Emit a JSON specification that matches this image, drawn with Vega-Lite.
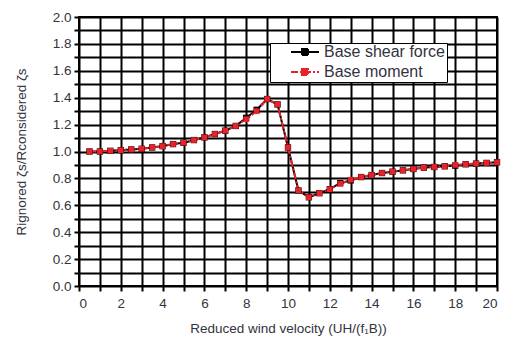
{
  "$schema": "https://vega.github.io/schema/vega-lite/v6.json",
  "width": 418,
  "height": 269,
  "autosize": {"type": "none"},
  "padding": {"left": 79, "top": 17, "right": 10, "bottom": 57},
  "background": "white",
  "config": {
    "font": "Liberation Sans",
    "view": {"stroke": "black", "strokeWidth": 2},
    "axis": {
      "grid": true, "gridColor": "black", "gridOpacity": 1, "gridWidth": 2,
      "domain": false, "tickColor": "black", "tickWidth": 2, "tickSize": 5,
      "labelFont": "Liberation Sans", "labelFontSize": 13.5, "labelColor": "#333340",
      "titleFont": "Liberation Sans", "titleFontSize": 13.5, "titleFontWeight": "normal", "titleColor": "#333340"
    }
  },
  "data": {"values": [
    {"x": 0.5, "s": "Base shear force", "v": 1.00},
    {"x": 1.0, "s": "Base shear force", "v": 1.00},
    {"x": 1.5, "s": "Base shear force", "v": 1.005},
    {"x": 2.0, "s": "Base shear force", "v": 1.01},
    {"x": 2.5, "s": "Base shear force", "v": 1.015},
    {"x": 3.0, "s": "Base shear force", "v": 1.02},
    {"x": 3.5, "s": "Base shear force", "v": 1.03},
    {"x": 4.0, "s": "Base shear force", "v": 1.04},
    {"x": 4.5, "s": "Base shear force", "v": 1.055},
    {"x": 5.0, "s": "Base shear force", "v": 1.065},
    {"x": 5.5, "s": "Base shear force", "v": 1.085},
    {"x": 6.0, "s": "Base shear force", "v": 1.105},
    {"x": 6.5, "s": "Base shear force", "v": 1.13},
    {"x": 7.0, "s": "Base shear force", "v": 1.155},
    {"x": 7.5, "s": "Base shear force", "v": 1.19},
    {"x": 8.0, "s": "Base shear force", "v": 1.25},
    {"x": 8.5, "s": "Base shear force", "v": 1.31},
    {"x": 9.0, "s": "Base shear force", "v": 1.39},
    {"x": 9.5, "s": "Base shear force", "v": 1.35},
    {"x": 10.0, "s": "Base shear force", "v": 1.03},
    {"x": 10.5, "s": "Base shear force", "v": 0.71},
    {"x": 11.0, "s": "Base shear force", "v": 0.66},
    {"x": 11.5, "s": "Base shear force", "v": 0.69},
    {"x": 12.0, "s": "Base shear force", "v": 0.72},
    {"x": 12.5, "s": "Base shear force", "v": 0.765},
    {"x": 13.0, "s": "Base shear force", "v": 0.785},
    {"x": 13.5, "s": "Base shear force", "v": 0.81},
    {"x": 14.0, "s": "Base shear force", "v": 0.825},
    {"x": 14.5, "s": "Base shear force", "v": 0.84},
    {"x": 15.0, "s": "Base shear force", "v": 0.85},
    {"x": 15.5, "s": "Base shear force", "v": 0.86},
    {"x": 16.0, "s": "Base shear force", "v": 0.87},
    {"x": 16.5, "s": "Base shear force", "v": 0.88},
    {"x": 17.0, "s": "Base shear force", "v": 0.885},
    {"x": 17.5, "s": "Base shear force", "v": 0.89},
    {"x": 18.0, "s": "Base shear force", "v": 0.895},
    {"x": 18.5, "s": "Base shear force", "v": 0.905},
    {"x": 19.0, "s": "Base shear force", "v": 0.91},
    {"x": 19.5, "s": "Base shear force", "v": 0.915},
    {"x": 20.0, "s": "Base shear force", "v": 0.92},
    {"x": 0.5, "s": "Base moment", "v": 1.00},
    {"x": 1.0, "s": "Base moment", "v": 1.00},
    {"x": 1.5, "s": "Base moment", "v": 1.005},
    {"x": 2.0, "s": "Base moment", "v": 1.01},
    {"x": 2.5, "s": "Base moment", "v": 1.015},
    {"x": 3.0, "s": "Base moment", "v": 1.02},
    {"x": 3.5, "s": "Base moment", "v": 1.03},
    {"x": 4.0, "s": "Base moment", "v": 1.04},
    {"x": 4.5, "s": "Base moment", "v": 1.055},
    {"x": 5.0, "s": "Base moment", "v": 1.065},
    {"x": 5.5, "s": "Base moment", "v": 1.085},
    {"x": 6.0, "s": "Base moment", "v": 1.105},
    {"x": 6.5, "s": "Base moment", "v": 1.13},
    {"x": 7.0, "s": "Base moment", "v": 1.155},
    {"x": 7.5, "s": "Base moment", "v": 1.19},
    {"x": 8.0, "s": "Base moment", "v": 1.24},
    {"x": 8.5, "s": "Base moment", "v": 1.30},
    {"x": 9.0, "s": "Base moment", "v": 1.39},
    {"x": 9.5, "s": "Base moment", "v": 1.35},
    {"x": 10.0, "s": "Base moment", "v": 1.03},
    {"x": 10.5, "s": "Base moment", "v": 0.71},
    {"x": 11.0, "s": "Base moment", "v": 0.66},
    {"x": 11.5, "s": "Base moment", "v": 0.69},
    {"x": 12.0, "s": "Base moment", "v": 0.72},
    {"x": 12.5, "s": "Base moment", "v": 0.76},
    {"x": 13.0, "s": "Base moment", "v": 0.79},
    {"x": 13.5, "s": "Base moment", "v": 0.81},
    {"x": 14.0, "s": "Base moment", "v": 0.825},
    {"x": 14.5, "s": "Base moment", "v": 0.84},
    {"x": 15.0, "s": "Base moment", "v": 0.85},
    {"x": 15.5, "s": "Base moment", "v": 0.86},
    {"x": 16.0, "s": "Base moment", "v": 0.87},
    {"x": 16.5, "s": "Base moment", "v": 0.88},
    {"x": 17.0, "s": "Base moment", "v": 0.885},
    {"x": 17.5, "s": "Base moment", "v": 0.89},
    {"x": 18.0, "s": "Base moment", "v": 0.90},
    {"x": 18.5, "s": "Base moment", "v": 0.905},
    {"x": 19.0, "s": "Base moment", "v": 0.91},
    {"x": 19.5, "s": "Base moment", "v": 0.915},
    {"x": 20.0, "s": "Base moment", "v": 0.92}
  ]},
  "encoding": {
    "x": {
      "field": "x", "type": "quantitative",
      "scale": {"domain": [0, 20], "nice": false, "zero": false},
      "axis": {
        "values": [0,1,2,3,4,5,6,7,8,9,10,11,12,13,14,15,16,17,18,19,20],
        "labelExpr": "datum.value % 2 == 0 ? datum.label : ''",
        "labelPadding": 5, "titlePadding": 12,
        "title": "Reduced wind velocity (UH/(f₁B))"
      }
    },
    "y": {
      "field": "v", "type": "quantitative",
      "scale": {"domain": [0, 2], "nice": false},
      "axis": {
        "values": [0,0.1,0.2,0.3,0.4,0.5,0.6,0.7,0.8,0.9,1.0,1.1,1.2,1.3,1.4,1.5,1.6,1.7,1.8,1.9,2.0],
        "format": ".1f",
        "labelExpr": "round(datum.value*10) % 2 == 0 ? datum.label : ''",
        "labelPadding": 3, "titlePadding": 24,
        "title": "Rignored ζs/Rconsidered ζs"
      }
    },
    "order": {"field": "x", "type": "quantitative"}
  },
  "layer": [
    {
      "mark": {"type": "line", "strokeWidth": 2},
      "encoding": {
        "color": {
          "field": "s", "type": "nominal",
          "scale": {"domain": ["Base shear force", "Base moment"], "range": ["black", "#e8222b"]},
          "legend": {
            "title": null, "orient": "none", "legendX": 191, "legendY": 26,
            "strokeColor": "black", "fillColor": "white", "padding": 2,
            "labelFontSize": 16, "labelColor": "#333340", "labelFont": "Liberation Sans",
            "labelOffset": 10, "symbolSize": 1600, "symbolStrokeWidth": 2,
            "clipHeight": 14, "rowPadding": 4,
            "symbolType": "M-0.1,0H1.3M0.45,-0.15H0.75V0.15H0.45Z",
            "encode": {"symbols": {"update": {
              "fill": {"scale": "color", "field": "value"}
            }}}
          }
        },
        "strokeDash": {
          "field": "s", "type": "nominal",
          "scale": {"domain": ["Base shear force", "Base moment"], "range": [[1, 0], [7, 2, 2, 2]]},
          "legend": null
        }
      }
    },
    {
      "transform": [{"filter": "datum.s == 'Base shear force'"}],
      "mark": {"type": "point", "shape": "square", "filled": true, "opacity": 1, "color": "black", "size": 40}
    },
    {
      "transform": [{"filter": "datum.s == 'Base moment'"}],
      "mark": {"type": "point", "shape": "square", "filled": true, "opacity": 1, "color": "#e8222b", "size": 32}
    }
  ]
}
